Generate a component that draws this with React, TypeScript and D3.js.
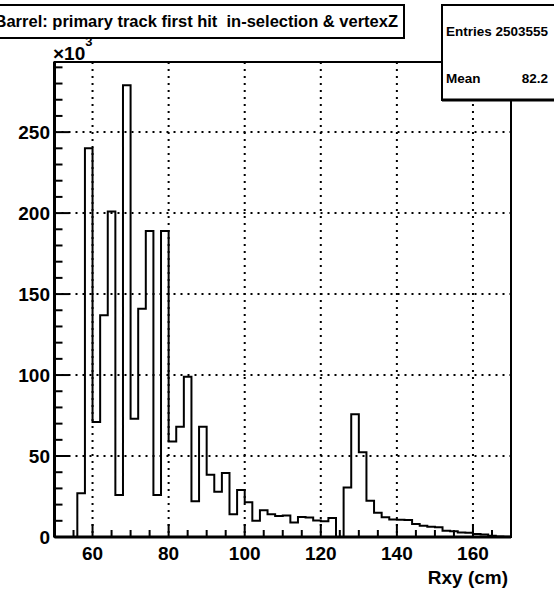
import React from "react";
import * as d3 from "d3";

// Histogram: Rxy (cm), 2 cm bins from 50 to 170, counts in thousands
const binEdgesStart = 50;
const binWidth = 2;
const binCounts = [
  0, 0, 0, 27, 240, 71, 137, 201, 26, 279,
  73, 141, 189, 26, 189, 59, 68, 99, 22, 68,
  38.5, 28, 39.5, 14, 29, 21.5, 10, 16.5, 14, 13,
  13.3, 9, 12.3, 12, 10.2, 9.8, 11.7, 0, 30.5, 75.8,
  52.3, 22.4, 15, 12.2, 10.8, 10.6, 10.5, 8.1, 6.9, 6.3,
  6.0, 3.9, 3.6, 2.8, 2.7, 1.8, 1.5, 0.8, 0.3, 0.1,
];
const xTicks = [60, 80, 100, 120, 140, 160];
const yTicks = [0, 50, 100, 150, 200, 250];
const titleText = "Barrel: primary track first hit  in-selection & vertexZ";
const xTitle = "Rxy (cm)";
const statsLabels = ["Entries", "Mean"];
const statsValues = ["2503555", "82.2"];

const FONT = "'Liberation Sans', Arial, Helvetica, sans-serif";

export default function App() {
  const W = 554;
  const H = 597;
  const left = 54.5, right = 511, top = 62, bottom = 537;
  const x = d3.scaleLinear().domain([50, 170]).range([left, right]);
  const y = d3.scaleLinear().domain([0, 293.3]).range([bottom, top]);

  // step outline
  const pts: [number, number][] = [];
  pts.push([binEdgesStart, 0]);
  binCounts.forEach((v, i) => {
    const x0 = binEdgesStart + i * binWidth;
    pts.push([x0, v]);
    pts.push([x0 + binWidth, v]);
  });
  pts.push([binEdgesStart + binCounts.length * binWidth, 0]);
  const line = d3
    .line<[number, number]>()
    .x((d) => x(d[0]))
    .y((d) => y(d[1]));

  const xMinor = d3.range(50, 170.001, 5);
  const yMinor = d3.range(0, 290.001, 10);

  return (
    <svg
      width={W}
      height={H}
      style={{ position: "absolute", left: 0, top: 0, background: "#fff" }}
      fontFamily={FONT}
    >
      <rect x={0} y={0} width={W} height={H} fill="#fff" />
      {/* grid */}
      {xTicks.map((t) => (
        <line
          key={"gx" + t}
          x1={x(t)}
          x2={x(t)}
          y1={top}
          y2={bottom}
          stroke="#000"
          strokeWidth={2}
          strokeDasharray="2 5"
        />
      ))}
      {yTicks
        .filter((t) => t > 0)
        .map((t) => (
          <line
            key={"gy" + t}
            x1={left}
            x2={right}
            y1={y(t)}
            y2={y(t)}
            stroke="#000"
            strokeWidth={2}
            strokeDasharray="2 5"
          />
        ))}
      {/* histogram */}
      <path d={line(pts) || ""} fill="none" stroke="#000" strokeWidth={2} />
      {/* ticks */}
      {xMinor.map((t) => {
        const major = xTicks.includes(t);
        return (
          <line
            key={"tx" + t}
            x1={x(t)}
            x2={x(t)}
            y1={bottom}
            y2={bottom - (major ? 13 : 7)}
            stroke="#000"
            strokeWidth={2}
          />
        );
      })}
      {yMinor.map((t) => {
        const major = yTicks.includes(t);
        return (
          <line
            key={"ty" + t}
            x1={left}
            x2={left + (major ? 15 : 8)}
            y1={y(t)}
            y2={y(t)}
            stroke="#000"
            strokeWidth={2}
          />
        );
      })}
      {/* frame */}
      <rect
        x={left}
        y={top}
        width={right - left}
        height={bottom - top}
        fill="none"
        stroke="#000"
        strokeWidth={2}
      />
      <line x1={left} x2={right} y1={bottom} y2={bottom} stroke="#000" strokeWidth={3} />
      <line x1={left} x2={left} y1={top} y2={bottom} stroke="#000" strokeWidth={3} />
      {/* tick labels */}
      {xTicks.map((t) => (
        <text
          key={"lx" + t}
          x={x(t)}
          y={560}
          textAnchor="middle"
          fontSize={19}
          fontWeight="bold"
        >
          {t}
        </text>
      ))}
      {yTicks.map((t) => (
        <text
          key={"ly" + t}
          x={50}
          y={y(t) + 7}
          textAnchor="end"
          fontSize={19}
          fontWeight="bold"
        >
          {t}
        </text>
      ))}
      <text x={508} y={584} textAnchor="end" fontSize={19} fontWeight="bold">
        {xTitle}
      </text>
      {/* x10^3 */}
      <text x={53} y={60} fontSize={19} fontWeight="bold">
        ×10
        <tspan dy={-14} fontSize={13}>
          3
        </tspan>
      </text>
      {/* title box */}
      <rect x={-10} y={5} width={414} height={33} fill="#fff" stroke="#000" strokeWidth={2} />
      <text
        x={398}
        y={27}
        textAnchor="end"
        fontSize={16.5}
        fontWeight="bold"
        style={{ whiteSpace: "pre" }}
      >
        {titleText}
      </text>
      {/* stats box */}
      <rect x={442} y={5} width={130} height={95} fill="#fff" stroke="#000" strokeWidth={2} />
      <line x1={442} x2={560} y1={100} y2={100} stroke="#000" strokeWidth={3} />
      {statsLabels.map((s, i) => (
        <g key={s}>
          <text x={446} y={i === 0 ? 36 : 83} fontSize={13.5} fontWeight="bold">
            {s}
          </text>
          <text
            x={548}
            y={i === 0 ? 36 : 83}
            textAnchor="end"
            fontSize={13.5}
            fontWeight="bold"
          >
            {statsValues[i]}
          </text>
        </g>
      ))}
    </svg>
  );
}
